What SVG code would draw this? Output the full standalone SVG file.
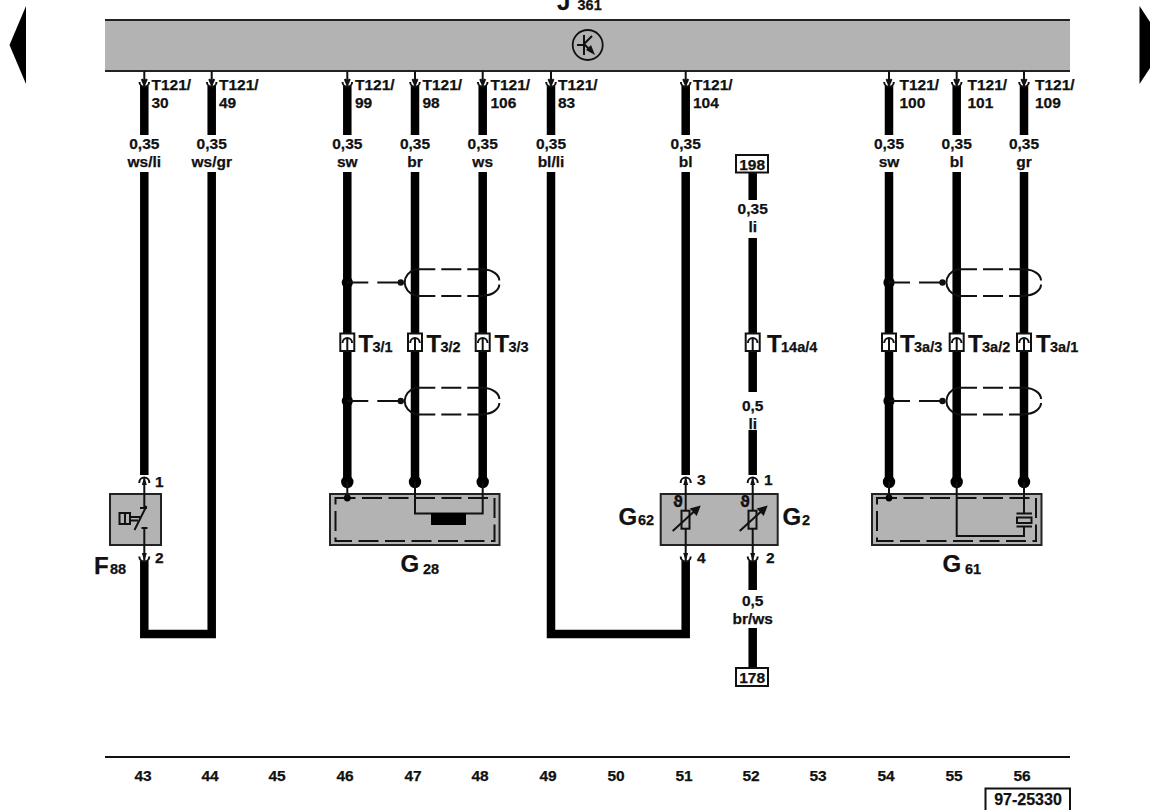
<svg xmlns="http://www.w3.org/2000/svg" xmlns:xlink="http://www.w3.org/1999/xlink" width="1150" height="810" viewBox="0 0 1150 810">
<style>
text{font-family:"Liberation Sans",Arial,sans-serif;font-weight:700;fill:#111;stroke:#111;stroke-width:.25}
.t{font-size:15.5px}
.c{font-size:15.5px;text-anchor:middle}
.b{font-size:24px}
.s{font-size:14.5px}
.wire{fill:none;stroke:#000;stroke-width:8.5;stroke-linejoin:miter}
.thin{fill:none;stroke:#111;stroke-width:2}
.box{fill:#b3b3b3;stroke:#222;stroke-width:2}
.dash{fill:none;stroke:#111;stroke-width:2;stroke-dasharray:20 6.5}
.wb{fill:#fff;stroke:#111;stroke-width:2}
</style>
<defs>
<g id="pinTop"><path class="thin" d="M0,71V86M-4.8,82A4.8,4.8 0 0 0 4.8,82M-2.5,79L0,85L2.5,79"/></g>
<g id="pinUp"><path class="thin" d="M-5,483V482.5A5,5 0 0 1 5,482.5V483"/><path d="M0,477L-2.5,485H2.5Z" fill="#111"/></g>
<g id="pinDown"><path class="thin" d="M-5,556.5A5,5 0 0 0 5,556.5"/><path d="M0,561L-2.5,553H2.5Z" fill="#111"/></g>
<g id="conn"><rect class="wb" x="-7" y="333.5" width="14" height="17.5"/><path class="thin" d="M0,351V338M-4.8,343A4.8,5 0 0 1 4.8,343"/></g>
<g id="shield"><circle cx="53.5" cy="0" r="3.2" fill="#111"/><path class="thin" stroke-dasharray="21 9" d="M0,0H53"/><path class="thin" d="M68,-13A14.5,13.5 0 0 0 68,13M136,-13C146,-13 152,-7 152,-2M136,13C146,13 152,7 152,2"/><path class="thin" stroke-dasharray="20 6" d="M68,-13.2H136M68,13.5H136"/></g>
<g id="sensor"><rect x="-4.2" y="510.7" width="8" height="18" fill="#b3b3b3" stroke="#111" stroke-width="2"/><path class="thin" d="M-13,531L10,510"/><path d="M15,505.5L4,508.5L11,516Z" fill="#111"/></g>
</defs>

<g id="nav-left"><polygon points="26,6 9.5,45 26,84" fill="#000"/></g>
<g id="nav-right"><polygon points="1139.5,6 1150,22 1150,68 1139.5,84" fill="#000"/></g>

<g id="J361">
<text class="b" x="557" y="10">J</text><text class="s" x="577.5" y="10">361</text>
<rect x="105" y="20" width="965" height="51" fill="#b3b3b3"/>
<path d="M105,20H1070M105,71H1070" stroke="#222" stroke-width="1.8" fill="none"/>
<circle cx="587.7" cy="45" r="15" fill="none" stroke="#111" stroke-width="1.8"/>
<path class="thin" d="M577,45H584M584,35V55M584,44L592,36M584,44L592,52"/><path d="M595,55L586,50L591,45Z" fill="#111"/>
</g>

<g id="connectors">
<path class="wire" d="M144.3,86V135M144.3,172V475"/>
<path class="wire" d="M144.3,561V634H211.7V172M211.7,135V86"/>
<path class="wire" d="M347.3,86V135M347.3,172V482"/>
<path class="wire" d="M415,86V135M415,172V482"/>
<path class="wire" d="M482.7,86V135M482.7,172V482"/>
<path class="wire" d="M551,86V135M551,172V634H685.7V561"/>
<path class="wire" d="M685.7,86V135M685.7,172V475"/>
<path class="wire" d="M752.7,173V200M752.7,238V392M752.7,430V475"/>
<path class="wire" d="M752.7,561V590M752.7,628V668"/>
<path class="wire" d="M889,86V135M889,172V482"/>
<path class="wire" d="M956.7,86V135M956.7,172V482"/>
<path class="wire" d="M1024,86V135M1024,172V482"/>
<use xlink:href="#pinTop" href="#pinTop" x="144.3"/><use xlink:href="#pinTop" href="#pinTop" x="211.7"/><use xlink:href="#pinTop" href="#pinTop" x="347.3"/><use xlink:href="#pinTop" href="#pinTop" x="415"/><use xlink:href="#pinTop" href="#pinTop" x="482.7"/><use xlink:href="#pinTop" href="#pinTop" x="551"/><use xlink:href="#pinTop" href="#pinTop" x="685.7"/><use xlink:href="#pinTop" href="#pinTop" x="889"/><use xlink:href="#pinTop" href="#pinTop" x="956.7"/><use xlink:href="#pinTop" href="#pinTop" x="1024"/>
<circle cx="347.3" cy="282.5" r="5.6"/><circle cx="347.3" cy="401" r="5.6"/><circle cx="889" cy="282.5" r="5.6"/><circle cx="889" cy="401" r="5.6"/>
<use xlink:href="#shield" href="#shield" x="347.3" y="282.5"/><use xlink:href="#shield" href="#shield" x="347.3" y="401"/><use xlink:href="#shield" href="#shield" x="889" y="282.5"/><use xlink:href="#shield" href="#shield" x="889" y="401"/>
<use xlink:href="#conn" href="#conn" x="347.3"/><use xlink:href="#conn" href="#conn" x="415"/><use xlink:href="#conn" href="#conn" x="482.7"/><use xlink:href="#conn" href="#conn" x="752.7"/><use xlink:href="#conn" href="#conn" x="889"/><use xlink:href="#conn" href="#conn" x="956.7"/><use xlink:href="#conn" href="#conn" x="1024"/>
<use xlink:href="#pinUp" href="#pinUp" x="144.3"/><use xlink:href="#pinDown" href="#pinDown" x="144.3"/><use xlink:href="#pinUp" href="#pinUp" x="685.7"/><use xlink:href="#pinDown" href="#pinDown" x="685.7"/><use xlink:href="#pinUp" href="#pinUp" x="752.7"/><use xlink:href="#pinDown" href="#pinDown" x="752.7"/>
</g>

<g id="labels">
<text class="t" x="151.5" y="90">T121/</text><text class="t" x="151.5" y="107.5">30</text>
<text class="t" x="219" y="90">T121/</text><text class="t" x="219" y="107.5">49</text>
<text class="t" x="355" y="90">T121/</text><text class="t" x="355" y="107.5">99</text>
<text class="t" x="422.5" y="90">T121/</text><text class="t" x="422.5" y="107.5">98</text>
<text class="t" x="490.5" y="90">T121/</text><text class="t" x="490.5" y="107.5">106</text>
<text class="t" x="558" y="90">T121/</text><text class="t" x="558" y="107.5">83</text>
<text class="t" x="693" y="90">T121/</text><text class="t" x="693" y="107.5">104</text>
<text class="t" x="899.5" y="90">T121/</text><text class="t" x="899.5" y="107.5">100</text>
<text class="t" x="967.5" y="90">T121/</text><text class="t" x="967.5" y="107.5">101</text>
<text class="t" x="1035" y="90">T121/</text><text class="t" x="1035" y="107.5">109</text>
<text class="c" x="144.3" y="149">0,35</text><text class="c" x="144.3" y="166.5">ws/li</text>
<text class="c" x="211.7" y="149">0,35</text><text class="c" x="211.7" y="166.5">ws/gr</text>
<text class="c" x="347.3" y="149">0,35</text><text class="c" x="347.3" y="166.5">sw</text>
<text class="c" x="415" y="149">0,35</text><text class="c" x="415" y="166.5">br</text>
<text class="c" x="482.7" y="149">0,35</text><text class="c" x="482.7" y="166.5">ws</text>
<text class="c" x="551" y="149">0,35</text><text class="c" x="551" y="166.5">bl/li</text>
<text class="c" x="685.7" y="149">0,35</text><text class="c" x="685.7" y="166.5">bl</text>
<text class="c" x="889" y="149">0,35</text><text class="c" x="889" y="166.5">sw</text>
<text class="c" x="956.7" y="149">0,35</text><text class="c" x="956.7" y="166.5">bl</text>
<text class="c" x="1024" y="149">0,35</text><text class="c" x="1024" y="166.5">gr</text>
<text class="c" x="752.7" y="214">0,35</text><text class="c" x="752.7" y="232">li</text>
<text class="c" x="752.7" y="411">0,5</text><text class="c" x="752.7" y="429">li</text>
<text class="c" x="752.7" y="606">0,5</text><text class="c" x="752.7" y="624">br/ws</text>
<text class="b" x="358.5" y="351.5">T</text><text class="s" x="372.5" y="351.5">3/1</text>
<text class="b" x="426.5" y="351.5">T</text><text class="s" x="440.5" y="351.5">3/2</text>
<text class="b" x="494.5" y="351.5">T</text><text class="s" x="508.5" y="351.5">3/3</text>
<text class="b" x="767" y="351.5">T</text><text class="s" x="781" y="351.5">14a/4</text>
<text class="b" x="900" y="351.5">T</text><text class="s" x="914" y="351.5">3a/3</text>
<text class="b" x="968" y="351.5">T</text><text class="s" x="982" y="351.5">3a/2</text>
<text class="b" x="1036" y="351.5">T</text><text class="s" x="1050" y="351.5">3a/1</text>
</g>

<g id="box-198"><rect class="wb" x="736" y="155" width="32" height="17.5"/><text class="c" x="752.2" y="169.5">198</text></g>
<g id="box-178"><rect class="wb" x="736" y="668" width="32" height="18"/><text class="c" x="752.2" y="682.5">178</text></g>

<g id="F88">
<rect class="box" x="110" y="494" width="51" height="51"/>
<path class="thin" d="M144.3,478V508M140,508H147M134.5,530L146.5,506M144.3,528V561M141.5,528H147.5M130,517H140M130,520.5H138"/>
<path class="thin" d="M125,513V524"/><rect x="119.5" y="513" width="10.5" height="11" fill="none" stroke="#111" stroke-width="2"/>
<text class="b" x="94" y="573.5">F</text><text class="s" x="110" y="574">88</text>
<text class="t" x="155" y="487">1</text><text class="t" x="155" y="563">2</text>
</g>

<g id="G28">
<rect class="box" x="330" y="494" width="169.5" height="51"/>
<rect class="dash" x="335.5" y="498" width="159" height="43"/>
<circle cx="347.3" cy="482" r="6.2"/><circle cx="415" cy="482" r="6.2"/><circle cx="482.7" cy="482" r="6.2"/>
<circle cx="347.3" cy="498" r="3.4"/>
<path class="thin" d="M347.3,482V498M415,482V513.5H482.7V482"/>
<rect x="431" y="513" width="35" height="12" fill="#000"/>
<text class="b" x="400.5" y="572">G</text><text class="s" x="423" y="574">28</text>
</g>

<g id="G62-G2">
<rect class="box" x="660.7" y="494" width="117" height="51"/>
<path class="thin" d="M685.7,478V511M685.7,528V561M752.7,478V511M752.7,528V561"/>
<use xlink:href="#sensor" href="#sensor" x="685.7"/><use xlink:href="#sensor" href="#sensor" x="752.7"/>
<text x="673" y="507" font-size="15" style="font-family:'DejaVu Sans',sans-serif">ϑ</text>
<text x="740" y="507" font-size="15" style="font-family:'DejaVu Sans',sans-serif">ϑ</text>
<text class="b" x="618.5" y="525">G</text><text class="s" x="638" y="525">62</text>
<text class="b" x="782.5" y="525">G</text><text class="s" x="802" y="525">2</text>
<text class="t" x="697" y="485">3</text><text class="t" x="764" y="485">1</text>
<text class="t" x="697" y="563">4</text><text class="t" x="766" y="563">2</text>
</g>

<g id="G61">
<rect class="box" x="872" y="494" width="169.5" height="51"/>
<rect class="dash" x="877" y="498" width="159" height="43"/>
<circle cx="889" cy="482" r="6.2"/><circle cx="956.7" cy="482" r="6.2"/><circle cx="1024" cy="482" r="6.2"/>
<circle cx="889" cy="498" r="3.4"/>
<path class="thin" d="M889,482V498M956.7,482V536H1024V527M1024,482V513"/>
<path d="M1016.5,513.5H1032M1016.5,526.5H1032" stroke="#111" stroke-width="2" fill="none"/>
<rect x="1017" y="517.5" width="14.5" height="5.5" fill="none" stroke="#111" stroke-width="2"/>
<text class="b" x="942.5" y="572">G</text><text class="s" x="965" y="574">61</text>
</g>

<g id="footer">
<path d="M105,757H1070" stroke="#111" stroke-width="1.8"/>
<text class="c" x="143" y="781">43</text><text class="c" x="210" y="781">44</text><text class="c" x="277" y="781">45</text><text class="c" x="345" y="781">46</text><text class="c" x="413" y="781">47</text><text class="c" x="480" y="781">48</text><text class="c" x="548" y="781">49</text><text class="c" x="616" y="781">50</text><text class="c" x="684" y="781">51</text><text class="c" x="751" y="781">52</text><text class="c" x="818" y="781">53</text><text class="c" x="886" y="781">54</text><text class="c" x="954" y="781">55</text><text class="c" x="1022" y="781">56</text>
<rect x="985.5" y="788.5" width="84.5" height="30" fill="#fff" stroke="#111" stroke-width="2"/>
<text class="c" x="1028" y="805" style="font-size:16px">97-25330</text>
</g>
</svg>
